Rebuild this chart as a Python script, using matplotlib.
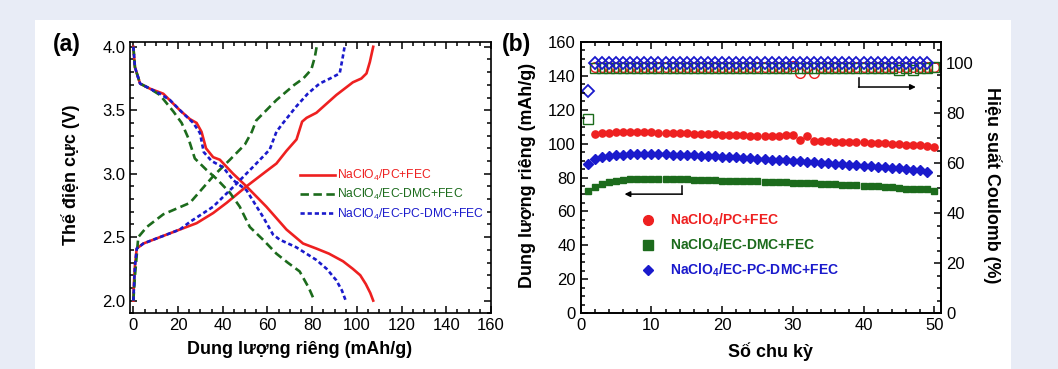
import numpy as np
import matplotlib
matplotlib.use('Agg')
import matplotlib.pyplot as plt
from matplotlib.patches import Rectangle
from matplotlib.ticker import MultipleLocator
from matplotlib.lines import Line2D

plt.rcParams['font.family'] = ['Liberation Sans', 'DejaVu Sans']
plt.rcParams['mathtext.fontset'] = 'custom'
plt.rcParams['mathtext.rm'] = 'Liberation Sans'
plt.rcParams['mathtext.it'] = 'Liberation Sans:italic'
plt.rcParams['mathtext.bf'] = 'Liberation Sans:bold'

RED = '#ee2020'
GREEN = '#1c6b1c'
BLUE = '#1a1acc'

# (a) charge / discharge curves: capacity (mAh/g), potential (V)
red_ch_x = [0, 0.3, 0.7, 1.5, 4.5, 11.9, 20.8, 28.3, 35.7, 41.7, 50.6, 59.5, 64, 68.5, 73, 75.5, 77.5, 81.9, 90.8, 98.2, 102, 104.3, 105.8, 107.3]
red_ch_v = [2.0, 2.15, 2.27, 2.41, 2.45, 2.50, 2.56, 2.61, 2.69, 2.77, 2.90, 3.02, 3.08, 3.18, 3.27, 3.41, 3.44, 3.48, 3.62, 3.72, 3.75, 3.79, 3.88, 4.0]
red_dis_x = [0, 0.7, 3, 7.4, 13.4, 20.8, 25.3, 28.3, 30.5, 32.5, 35.7, 38.7, 44.6, 50.6, 59.5, 68.5, 75.9, 81.9, 87.5, 93.8, 98.2, 101.5, 104, 106, 107.3]
red_dis_v = [4.0, 3.84, 3.71, 3.67, 3.63, 3.50, 3.43, 3.40, 3.33, 3.20, 3.13, 3.11, 3.0, 2.9, 2.74, 2.56, 2.45, 2.41, 2.37, 2.31, 2.25, 2.20, 2.13, 2.06, 2.0]

green_ch_x = [0, 0.7, 2.2, 6, 13.4, 25.3, 35.7, 43.2, 49.9, 53, 55, 64, 72, 76, 79.6, 81.2, 82]
green_ch_v = [2.0, 2.19, 2.50, 2.58, 2.68, 2.77, 2.98, 3.11, 3.23, 3.33, 3.42, 3.58, 3.70, 3.75, 3.82, 3.92, 4.0]
green_dis_x = [0, 0.7, 3, 7.4, 11.9, 17.9, 21.6, 24.6, 27.5, 32.7, 37.2, 43.2, 47.6, 52.1, 58, 64, 69, 74.4, 78.5, 81]
green_dis_v = [4.0, 3.84, 3.71, 3.67, 3.62, 3.49, 3.40, 3.28, 3.12, 3.03, 2.96, 2.85, 2.74, 2.58, 2.48, 2.37, 2.30, 2.23, 2.10, 2.0]

blue_ch_x = [0, 0.7, 1.5, 4.5, 11.9, 20.8, 25.3, 35.7, 46.1, 55, 61, 64, 67, 72.9, 78, 83.3, 88, 92.3, 93.5, 94.5]
blue_ch_v = [2.0, 2.27, 2.41, 2.45, 2.50, 2.56, 2.62, 2.74, 2.92, 3.08, 3.19, 3.33, 3.40, 3.53, 3.63, 3.71, 3.75, 3.79, 3.90, 4.0]
blue_dis_x = [0, 0.7, 3, 7.4, 11.9, 16.4, 22, 26.8, 29.8, 31.5, 35, 40.2, 44.6, 50.6, 58, 62.5, 65.5, 72.9, 81.9, 86.5, 90.8, 93.3, 95]
blue_dis_v = [4.0, 3.84, 3.71, 3.67, 3.63, 3.58, 3.48, 3.40, 3.32, 3.17, 3.10, 3.05, 2.95, 2.87, 2.66, 2.52, 2.48, 2.42, 2.32, 2.25, 2.16, 2.08, 2.0]

# (b) cycling: capacity (mAh/g) and coulombic efficiency (%)
red_cyc = list(range(2, 51))
red_cap = [105.7, 106.1, 106.4, 106.6, 106.7, 106.8, 106.8, 106.7, 106.6, 106.5,
           106.3, 106.2, 106.1, 106.0, 105.9, 105.8, 105.6, 105.4, 105.3, 105.1,
           105.0, 104.8, 104.7, 104.5, 104.4, 104.2, 104.2, 105.0, 105.3, 102.3,
           104.6, 101.7, 101.4, 101.3, 101.2, 101.1, 101.0, 100.9, 100.8, 100.6,
           100.4, 100.1, 99.9, 99.6, 99.3, 99.1, 98.9, 98.6, 98.0]
red_ce = [98.3, 98.4, 98.3, 98.2, 98.4, 98.3, 98.3, 98.4, 98.3, 98.2,
          98.4, 98.3, 98.3, 98.4, 98.3, 98.2, 98.3, 98.4, 98.3, 98.3,
          98.2, 98.4, 98.3, 98.3, 98.4, 98.3, 98.3, 98.2, 98.6, 95.9,
          98.4, 95.9, 98.3, 98.4, 98.3, 98.3, 98.2, 98.4, 98.3, 98.3,
          98.4, 98.3, 98.2, 98.3, 98.4, 98.3, 98.3, 98.2, 98.3]

green_cyc = list(range(1, 51))
green_cap = [71.8, 74.6, 76.4, 77.5, 78.2, 78.7, 79.0, 79.2, 79.3, 79.4,
             79.4, 79.4, 79.4, 79.4, 79.4, 78.5, 78.4, 78.3, 78.3, 78.2,
             78.1, 78.0, 77.9, 77.8, 77.7, 77.5, 77.4, 77.2, 77.1, 77.0,
             76.8, 76.6, 76.5, 76.3, 76.1, 75.9, 75.7, 75.5, 75.3, 75.1,
             74.9, 74.7, 74.5, 74.4, 73.6, 73.5, 73.4, 73.2, 73.1, 72.2]
green_ce = [77.6, 98.0, 97.9, 98.0, 98.1, 97.9, 98.0, 98.0, 97.8, 98.0,
            97.9, 98.0, 98.1, 97.9, 97.8, 98.0, 98.0, 97.9, 98.0, 98.1,
            97.9, 98.0, 98.0, 97.9, 98.0, 98.1, 97.9, 98.0, 98.0, 97.9,
            98.0, 98.1, 97.9, 98.0, 98.0, 97.9, 98.0, 98.1, 97.9, 98.0,
            98.0, 97.9, 98.0, 97.8, 97.0, 97.8, 97.2, 97.9, 98.0, 98.3]

blue_cyc = list(range(1, 50))
blue_cap = [88.2, 91.1, 92.3, 92.9, 93.2, 93.4, 93.6, 93.7, 93.7, 93.7,
            93.7, 93.6, 93.5, 93.3, 93.1, 93.0, 92.8, 92.6, 92.4, 92.2,
            92.0, 91.8, 91.6, 91.3, 91.0, 90.8, 90.6, 90.3, 90.1, 89.8,
            89.5, 89.3, 89.0, 88.8, 88.5, 88.2, 87.9, 87.6, 87.3, 87.0,
            86.7, 86.4, 86.1, 85.7, 85.4, 85.0, 84.6, 84.2, 83.5]
blue_ce = [88.8, 99.9, 99.9, 99.8, 99.9, 99.9, 99.9, 99.8, 99.9, 99.9,
           99.9, 99.8, 99.9, 99.9, 100.0, 99.9, 99.9, 99.8, 99.9, 99.9,
           99.9, 99.8, 99.9, 99.9, 100.0, 99.9, 99.9, 99.8, 99.9, 99.9,
           99.9, 99.8, 99.9, 99.9, 99.9, 99.8, 99.9, 99.9, 99.9, 99.8,
           99.9, 99.9, 99.9, 99.8, 99.9, 99.9, 99.9, 99.8, 99.9]

labels = ['NaClO$_4$/PC+FEC', 'NaClO$_4$/EC-DMC+FEC', 'NaClO$_4$/EC-PC-DMC+FEC']
labels_b = ['NaClO$_\\mathbf{4}$/PC+FEC', 'NaClO$_\\mathbf{4}$/EC-DMC+FEC', 'NaClO$_\\mathbf{4}$/EC-PC-DMC+FEC']

W, H = 1058, 369
fig = plt.figure(figsize=(W / 100, H / 100), dpi=100)
fig.patch.set_facecolor('#e8ecf6')
fig.patches.append(Rectangle((35 / W, 0), (1011 - 35) / W, (H - 20) / H,
                             transform=fig.transFigure, facecolor='white',
                             edgecolor='none', zorder=-10))


def px(x0, y0, x1, y1):
    return [x0 / W, 1 - y1 / H, (x1 - x0) / W, (y1 - y0) / H]


def style(ax):
    for s in ax.spines.values():
        s.set_linewidth(1.2)
    ax.tick_params(which='both', direction='in', labelsize=12, width=1.1)
    ax.tick_params(which='major', length=5)
    ax.tick_params(which='minor', length=2.8)


# ---- (a)
ax1 = fig.add_axes(px(130, 41.7, 491, 313.3))
lw = 1.9
ax1.plot(red_ch_x, red_ch_v, color=RED, lw=lw, label=labels[0])
ax1.plot(red_dis_x, red_dis_v, color=RED, lw=lw)
ax1.plot(green_ch_x, green_ch_v, color=GREEN, lw=lw, dashes=(3.2, 1.7), label=labels[1])
ax1.plot(green_dis_x, green_dis_v, color=GREEN, lw=lw, dashes=(3.2, 1.7))
ax1.plot(blue_ch_x, blue_ch_v, color=BLUE, lw=lw, dashes=(1.6, 1.1), label=labels[2])
ax1.plot(blue_dis_x, blue_dis_v, color=BLUE, lw=lw, dashes=(1.6, 1.1))
ax1.set_xlim(-1.5, 160)
ax1.set_ylim(1.90, 4.04)
ax1.xaxis.set_major_locator(MultipleLocator(20))
ax1.xaxis.set_minor_locator(MultipleLocator(5))
ax1.yaxis.set_major_locator(MultipleLocator(0.5))
ax1.yaxis.set_minor_locator(MultipleLocator(0.1))
ax1.yaxis.set_major_formatter(matplotlib.ticker.FormatStrFormatter('%.1f'))
style(ax1)
ax1.tick_params(which='both', top=True, right=True)
leg1 = ax1.legend(loc='upper left', bbox_to_anchor=(0.47, 0.535), frameon=False,
                  fontsize=8.7, handlelength=2.9, handletextpad=0.2,
                  labelspacing=0.35, borderpad=0, borderaxespad=0,
                  labelcolor='linecolor')

# ---- (b)
ax2 = fig.add_axes(px(580.7, 41.7, 941.3, 313.3))
ax3 = ax2.twinx()
ax3.plot(red_cyc, red_ce, 'o', ms=7, mfc='none', mec=RED, mew=1.0, ls='none')
ax3.plot(green_cyc, green_ce, 's', ms=7.5, mfc='none', mec=GREEN, mew=1.0, ls='none')
ax3.plot(blue_cyc, blue_ce, 'D', ms=6.5, mfc='none', mec=BLUE, mew=1.3, ls='none')
ax2.plot(red_cyc, red_cap, 'o', ms=5.2, color=RED, ls='none')
ax2.plot(green_cyc, green_cap, 's', ms=4.3, color=GREEN, ls='none')
ax2.plot(blue_cyc, blue_cap, 'D', ms=4.6, color=BLUE, ls='none')
ax2.set_xlim(0, 51)
ax2.set_ylim(0, 160)
ax3.set_ylim(0, 108.5)
ax2.xaxis.set_major_locator(MultipleLocator(10))
ax2.xaxis.set_minor_locator(MultipleLocator(2))
ax2.yaxis.set_major_locator(MultipleLocator(20))
ax2.yaxis.set_minor_locator(MultipleLocator(5))
ax3.yaxis.set_major_locator(MultipleLocator(20))
ax3.yaxis.set_minor_locator(MultipleLocator(5))
style(ax2)
style(ax3)
ax2.tick_params(which='both', top=True, right=False)
ax2.set_zorder(ax3.get_zorder() + 1)
ax2.patch.set_visible(False)

# arrows
ax2.annotate('', xy=(6.2, 70.2), xytext=(14.35, 70.2),
             arrowprops=dict(arrowstyle='-|>', color='black', lw=1.1,
                             mutation_scale=8, shrinkA=0, shrinkB=0))
ax2.plot([14.35, 14.35], [75.1, 70.2], color='black', lw=1.1)
ax3.annotate('', xy=(47.4, 90.4), xytext=(39.3, 90.4),
             arrowprops=dict(arrowstyle='-|>', color='black', lw=1.1,
                             mutation_scale=8, shrinkA=0, shrinkB=0))
ax3.plot([39.3, 39.3], [94.0, 90.4], color='black', lw=1.1)

handles = [Line2D([], [], marker='o', ls='none', color=RED, ms=7),
           Line2D([], [], marker='s', ls='none', color=GREEN, ms=6.5),
           Line2D([], [], marker='D', ls='none', color=BLUE, ms=5.5)]
leg2 = ax2.legend(handles, labels_b, loc='upper left', bbox_to_anchor=(0.145, 0.40),
                  frameon=False, handlelength=1.2, handletextpad=1.0,
                  labelspacing=0.55, borderpad=0, labelcolor=[RED, GREEN, BLUE],
                  prop={'weight': 'bold', 'size': 10})

# axis labels and panel letters
lab = dict(fontsize=12.9, fontweight='bold')
fig.text(71 / W, 1 - 175 / H, 'Thế điện cực (V)', rotation=90, ha='center', va='center', **lab)
fig.text(300 / W, 1 - 350 / H, 'Dung lượng riêng (mAh/g)', ha='center', va='center', **lab)
fig.text(527 / W, 1 - 175 / H, 'Dung lượng riêng (mAh/g)', rotation=90, ha='center', va='center', **lab)
fig.text(770 / W, 1 - 352 / H, 'Số chu kỳ', ha='center', va='center', **lab)
fig.text(992 / W, 1 - 185 / H, 'Hiệu suất Coulomb (%)', rotation=270, ha='center', va='center', **lab)
fig.text(53 / W, 1 - 45 / H, '(a)', ha='left', va='center', fontsize=16.5, fontweight='bold')
fig.text(502 / W, 1 - 45 / H, '(b)', ha='left', va='center', fontsize=16.5, fontweight='bold')

fig.savefig('out.png', dpi=100, facecolor=fig.get_facecolor())
